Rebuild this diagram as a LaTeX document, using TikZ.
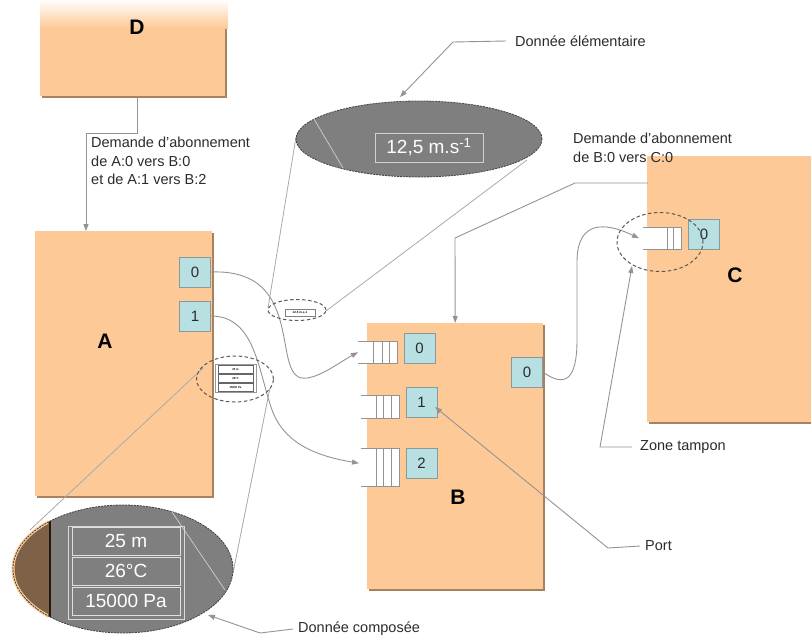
\documentclass[tikz,border=0pt]{standalone}
\usepackage{fontspec}
\setmainfont{Liberation Sans}
\usetikzlibrary{arrows.meta,calc,shadows,shapes.geometric}
\definecolor{orng}{HTML}{FDCA97}
\definecolor{shd}{HTML}{A8825E}
\definecolor{portc}{HTML}{B8DFE2}
\definecolor{portb}{HTML}{8A9A9C}
\definecolor{lnc}{HTML}{939393}
\definecolor{ellc}{HTML}{7F7F7F}
\definecolor{txtc}{HTML}{2B2B2B}
\definecolor{brownc}{HTML}{7E6247}
\begin{document}
\begin{tikzpicture}[x=1pt,y=-1pt,
  box/.style={fill=orng, draw=none, inner sep=0pt, anchor=north west,
    drop shadow={shadow xshift=1.5pt, shadow yshift=-1.5pt, fill=shd, opacity=1}},
  port/.style={fill=portc, draw=portb, line width=0.8pt, minimum width=31pt, minimum height=30pt, inner sep=0pt, font=\fontsize{15}{15}\selectfont, text=txtc},
  biglab/.style={font=\fontsize{21}{21}\selectfont\bfseries, text=black, inner sep=0pt},
  txt/.style={font=\fontsize{14.5}{18.5}\selectfont, text=txtc, inner sep=0pt, align=left},
  conn/.style={draw=lnc, line width=0.9pt},
  tip/.style={-{Triangle[length=7pt,width=5pt]}},
  qbox/.style={fill=white, draw=none, inner sep=0pt, anchor=north west},
  qline/.style={draw=lnc, line width=0.8pt},
  cone/.style={draw=lnc!80, line width=0.8pt},
  bigell/.style={ellipse, inner sep=0pt, fill=ellc, draw=black!75, line width=0.8pt, dash pattern=on 2pt off 1pt},
  smallell/.style={ellipse, inner sep=0pt, draw=black!65, line width=1pt, dash pattern=on 3.5pt off 2.5pt},
  valbox/.style={draw=black!18, line width=0.9pt, inner sep=0pt, text=white, font=\fontsize{19}{19}\selectfont}
]
\useasboundingbox (0,0) rectangle (811,635);

% ---- component boxes
\node[box, minimum width=185pt, minimum height=96pt] (D) at (40,0) {};
\shade[top color=white, bottom color=orng] (40,-1) rectangle (228,28);
\node[box, minimum width=177pt, minimum height=265pt] (A) at (35,231) {};
\node[box, minimum width=176pt, minimum height=266pt] (B) at (367,323) {};
\node[box, minimum width=170pt, minimum height=266pt] (C) at (647,156) {};

\node[biglab] (Dl) at (137,27) {D};
\node[biglab] (Al) at (105,341) {A};
\node[biglab] (Bl) at (458,497) {B};
\node[biglab] (Cl) at (735,275) {C};

% ---- ports
\node[port] (A0) at (195,272) {0};
\node[port] (A1) at (195,316) {1};
\node[port] (B0) at (419.5,348) {0};
\node[port] (B1) at (421.5,402) {1};
\node[port] (B2) at (421.5,463) {2};
\node[port] (Br) at (527,372) {0};
\node[port] (C0) at (704,234) {0};

% ---- buffers
\node[qbox, minimum width=39pt, minimum height=22pt] (qB0) at (358,341) {};
\draw[qline] (qB0.north west) -- (qB0.north east) -- (qB0.south east) -- (qB0.south west);
\foreach \d in {8,15,24} \draw[qline] ($(qB0.north east)+(-\d,0)$) -- ($(qB0.south east)+(-\d,0)$);
\node[qbox, minimum width=38pt, minimum height=23pt] (qB1) at (361,395) {};
\draw[qline] (qB1.north west) -- (qB1.north east) -- (qB1.south east) -- (qB1.south west);
\foreach \d in {8,16,23} \draw[qline] ($(qB1.north east)+(-\d,0)$) -- ($(qB1.south east)+(-\d,0)$);
\node[qbox, minimum width=38pt, minimum height=38pt] (qB2) at (361,448) {};
\draw[qline] (qB2.north west) -- (qB2.north east) -- (qB2.south east) -- (qB2.south west);
\foreach \d in {8,16,23} \draw[qline] ($(qB2.north east)+(-\d,0)$) -- ($(qB2.south east)+(-\d,0)$);
\node[qbox, minimum width=38pt, minimum height=22pt] (qC) at (643,227) {};
\draw[qline] (qC.north west) -- (qC.north east) -- (qC.south east) -- (qC.south west);
\foreach \d in {8,14} \draw[qline] ($(qC.north east)+(-\d,0)$) -- ($(qC.south east)+(-\d,0)$);

% ---- texts
\node[txt, anchor=north west] (dem1) at (91,137) {Demande d’abonnement\\de A:0 vers B:0\\et de A:1 vers B:2};
\node[txt, anchor=north west] (dem2) at (573,133) {Demande d’abonnement\\de B:0 vers C:0};
\node[txt, anchor=west] (elem) at (515,41) {Donnée élémentaire};
\node[txt, anchor=west] (zt) at (640,447) {Zone tampon};
\node[txt, anchor=west] (portl) at (645,546) {Port};
\node[txt, anchor=west] (comp) at (298,629) {Donnée composée};

% ---- connectors
\draw[conn,tip] ($(D.south)+(4.5,0)$) -- ++(0,37) -| ($(A.north west)+(51,0)$);
\coordinate (dC) at (648,183);
\draw[conn,tip] (dC) -- (575,183) -- (455,238) -- (B.north);
\draw[conn,tip] (A0.east) .. controls (310,268) and (268,384) .. (307,378) .. controls (322,376) and (340,362) .. (qB0.west);
\draw[conn,tip] (A1.east) .. controls (255,316) and (258,370) .. (272,410) .. controls (283,440) and (310,455) .. ($(qB2.west)+(-2,-4)$);
\draw[conn,tip] (Br.east) .. controls (565,388) and (577,380) .. (577,340) -- (577,262) .. controls (577,220) and (605,222) .. ($(qC.west)+(-4,0)$);

% ---- leader lines
\draw[conn,tip] ($(elem.west)+(-9,0)$) -- (453,42) -- (400,97);
\draw[conn,tip] ($(zt.west)+(-8,0)$) -- (600,447) -- (632,266);
\draw[conn,tip] ($(portl.west)+(-5,0)$) -- (608,548) -- (435,407);
\draw[conn,tip] ($(comp.west)+(-5,0)$) -- (260,633) -- (208,615);

% ---- magnifier cone lines
\draw[cone] (268,308) -- (296,137);
\draw[cone] (326,311) -- (527,160);
\draw[cone] (203,368) -- (30,530);
\draw[cone] (270,388) -- (233,573);

% ---- big elementary ellipse
\node[bigell, minimum width=246pt, minimum height=76pt] (bigE) at (419,139) {};
\draw[draw=black!22, line width=0.8pt] (314,119) -- (343,168);
\node[valbox, minimum width=108pt, minimum height=29pt] (val) at (429,147.5) {12,5 m.s\textsuperscript{-1}};

% ---- big composed ellipse
\fill[ellc] (123,569) ellipse [x radius=110, y radius=64];
\begin{scope}
  \clip (123,569) ellipse [x radius=110, y radius=64];
  \fill[brownc] (0,500) rectangle (50,640);
  \draw[black!80!brown, line width=1.2pt] (50,500) -- (50,640);
\end{scope}
\begin{scope}
  \clip (0,500) rectangle (48,640);
  \draw[orng, line width=3pt] (123,569) ellipse [x radius=110, y radius=64];
\end{scope}
\node[bigell, fill=none, minimum width=220pt, minimum height=128pt] (bigC) at (123,569) {};
\draw[draw=black!22, line width=0.8pt] (172,512) -- (225,590);
\node[draw=black!15, line width=0.8pt, minimum width=116pt, minimum height=93pt, inner sep=0pt] (frame) at (126,572.5) {};
\node[valbox, draw=black!12, minimum width=108pt, minimum height=28pt] (r1) at (126,541) {25 m};
\node[valbox, draw=black!12, minimum width=108pt, minimum height=28pt] (r2) at (126,571) {26°C};
\node[valbox, draw=black!12, minimum width=108pt, minimum height=28pt] (r3) at (126,601) {15000 Pa};

% ---- small ellipses
\node[smallell, minimum width=58pt, minimum height=21pt] (smE) at (297,310) {};
\node[fill=white, draw=black!50, line width=0.6pt, minimum width=30pt, minimum height=7pt, inner sep=0pt, font=\fontsize{3}{3}\selectfont\bfseries] (smv) at (300,312.5) {12,5 m.s-1};

\node[smallell, minimum width=77pt, minimum height=46pt] (smC) at (235,379) {};
\node[fill=white, draw=black!40, line width=0.6pt, minimum width=41pt, minimum height=28pt, inner sep=0pt] (smf) at (235.5,378) {};
\node[draw=black!60, line width=0.5pt, minimum width=35pt, minimum height=8pt, inner sep=0pt, font=\fontsize{2.8}{3}\selectfont\bfseries] (s1) at (235.5,369.5) {25 m};
\node[draw=black!60, line width=0.5pt, minimum width=35pt, minimum height=8pt, inner sep=0pt, font=\fontsize{2.8}{3}\selectfont\bfseries] (s2) at (235.5,378.5) {26°C};
\node[draw=black!60, line width=0.5pt, minimum width=35pt, minimum height=8pt, inner sep=0pt, font=\fontsize{2.8}{3}\selectfont\bfseries] (s3) at (235.5,387.5) {15000 Pa};

\node[smallell, minimum width=86pt, minimum height=59pt] (smQ) at (660,242) {};
\end{tikzpicture}
\end{document}
